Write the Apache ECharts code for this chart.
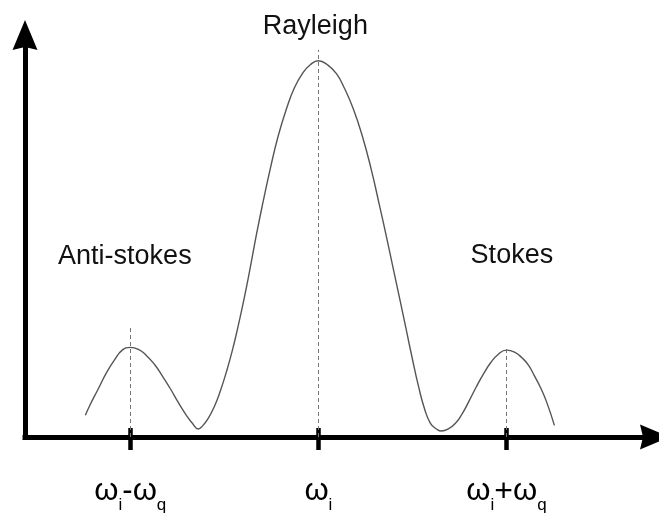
<!DOCTYPE html>
<html>
<head>
<meta charset="utf-8">
<script src="https://cdn.jsdelivr.net/npm/echarts@6/dist/echarts.min.js"></script>
<style>
  html, body { margin: 0; padding: 0; background: #fff; }
  #chart { width: 659px; height: 514px; }
</style>
</head>
<body>
<div id="chart"></div>
<script>
// Frequency shift from the incident line, in units of the phonon frequency ω_q
const shift = [
  -1.239, -1.213, -1.170, -1.128, -1.085, -1.043, -1.000, -0.957, -0.915, -0.872,
  -0.830, -0.787, -0.745, -0.702, -0.670, -0.638,
  -0.617, -0.585, -0.553, -0.521, -0.489, -0.457, -0.426, -0.394, -0.362, -0.330,
  -0.298, -0.255, -0.213, -0.170, -0.128, -0.085, -0.043, 0.000,
  0.048, 0.096, 0.138, 0.186, 0.234, 0.282, 0.324, 0.362, 0.399, 0.436,
  0.468, 0.500, 0.532, 0.564, 0.596, 0.628, 0.654,
  0.691, 0.729, 0.766, 0.803, 0.840, 0.878, 0.915, 0.957, 1.000, 1.043,
  1.085, 1.117, 1.149, 1.181, 1.213, 1.255
];
// Scattered intensity (arbitrary units)
const intensity = [
  5.4, 8.1, 12.0, 15.9, 19.1, 21.6, 22.3, 21.8, 20.3, 18.1,
  15.2, 12.0, 8.6, 5.4, 3.4, 2.0,
  2.7, 4.7, 7.6, 11.5, 16.2, 21.6, 27.7, 34.6, 42.2, 50.2,
  57.6, 66.9, 75.0, 81.6, 86.8, 90.4, 92.6, 93.6,
  92.6, 90.4, 86.8, 81.6, 74.8, 66.4, 57.8, 49.8, 41.7, 33.6,
  26.5, 19.4, 12.7, 7.1, 3.4, 2.0, 1.5,
  2.0, 3.4, 5.9, 9.1, 12.5, 15.7, 18.4, 20.6, 21.6, 21.1,
  19.6, 17.9, 15.2, 12.3, 8.8, 2.9
];
// Line centres: anti-Stokes, Rayleigh, Stokes
const lineCenters = [-1, 0, 1];
// Height reached by each dashed guide
const guideTops = [27.7, 96.3, 22.5];
// Tick labels (rich text: w = main glyph, s = subscript, p = plus sign)
const tickLabels = ['{w|ω}{s|i}{w|-}{w|ω}{s|q}', '{w|ω}{s|i}', '{w|ω}{s|i}{p|+}{w|ω}{s|q}'];
// Peak names
const peakNames = ['Anti-stokes', 'Rayleigh', 'Stokes'];

// Where each peak name sits, in axis units
const nameAnchors = [[-1.029, 45.0], [-0.016, 102.0], [1.029, 45.2]];

const X_MIN = -1.56, X_MAX = 1.79;
const FONT = '"Liberation Sans", Arial, sans-serif';
const arrowPath = 'path://M12.5,0L25,30L12.5,27L0,30Z';

const chart = echarts.init(document.getElementById('chart'), null, { renderer: 'canvas' });

const option = {
  animation: false,
  backgroundColor: '#fff',
  grid: { left: 25, right: 4, top: 35, bottom: 71, containLabel: false },
  xAxis: [
    {
      type: 'value', min: X_MIN, max: X_MAX, position: 'bottom',
      axisLine: {
        show: true, onZero: false,
        symbol: ['none', arrowPath], symbolSize: [25, 30],
        lineStyle: { color: '#000', width: 5, cap: 'square' }
      },
      axisTick: { show: false },
      splitLine: { show: false },
      axisLabel: {
        show: true,
        customValues: lineCenters,
        margin: 39,
        formatter: (v) => tickLabels[lineCenters.indexOf(v)] || '',
        rich: {
          w: { fontSize: 31, fontFamily: FONT, color: '#000', lineHeight: 32, verticalAlign: 'top' },
          p: { fontSize: 32, fontFamily: FONT, color: '#000', lineHeight: 32, verticalAlign: 'top' },
          s: { fontSize: 17, fontFamily: FONT, color: '#000', lineHeight: 17, padding: [21, 0, 0, 0], verticalAlign: 'top' }
        }
      }
    },
    {
      // tick marks crossing the frequency axis
      type: 'value', min: X_MIN, max: X_MAX, position: 'bottom', offset: -9,
      axisLine: { show: false, onZero: false },
      axisTick: {
        show: true, customValues: lineCenters, length: 22,
        lineStyle: { color: '#000', width: 4.5 }
      },
      axisLabel: { show: false },
      splitLine: { show: false }
    }
  ],
  yAxis: {
    type: 'value', min: 0, max: 100,
    axisLine: {
      show: true, onZero: false,
      symbol: ['none', arrowPath], symbolSize: [25, 30],
      lineStyle: { color: '#000', width: 5, cap: 'square' }
    },
    axisTick: { show: false },
    axisLabel: { show: false },
    splitLine: { show: false }
  },
  series: [
    {
      type: 'line',
      xAxisIndex: 0,
      data: shift.map((x, i) => [x, intensity[i]]),
      smooth: 0.5,
      showSymbol: false,
      silent: true,
      lineStyle: { color: '#555', width: 1.4 },
      markLine: {
        silent: true,
        symbol: ['none', 'none'],
        label: { show: false },
        lineStyle: { color: '#777', width: 1, type: [4, 3] },
        data: lineCenters.map((c, i) => [{ coord: [c, 0] }, { coord: [c, guideTops[i]] }])
      }
    }
  ]
};

chart.setOption(option);

// Peak names placed through the grid's own coordinate conversion
chart.setOption({
  graphic: peakNames.map((name, i) => {
    const pt = chart.convertToPixel({ seriesIndex: 0 }, nameAnchors[i]);
    return {
      type: 'text', x: pt[0], y: pt[1], silent: true,
      style: {
        text: name, fill: '#111',
        font: '27px ' + FONT,
        align: 'center', verticalAlign: 'middle'
      }
    };
  })
});
</script>
</body>
</html>
